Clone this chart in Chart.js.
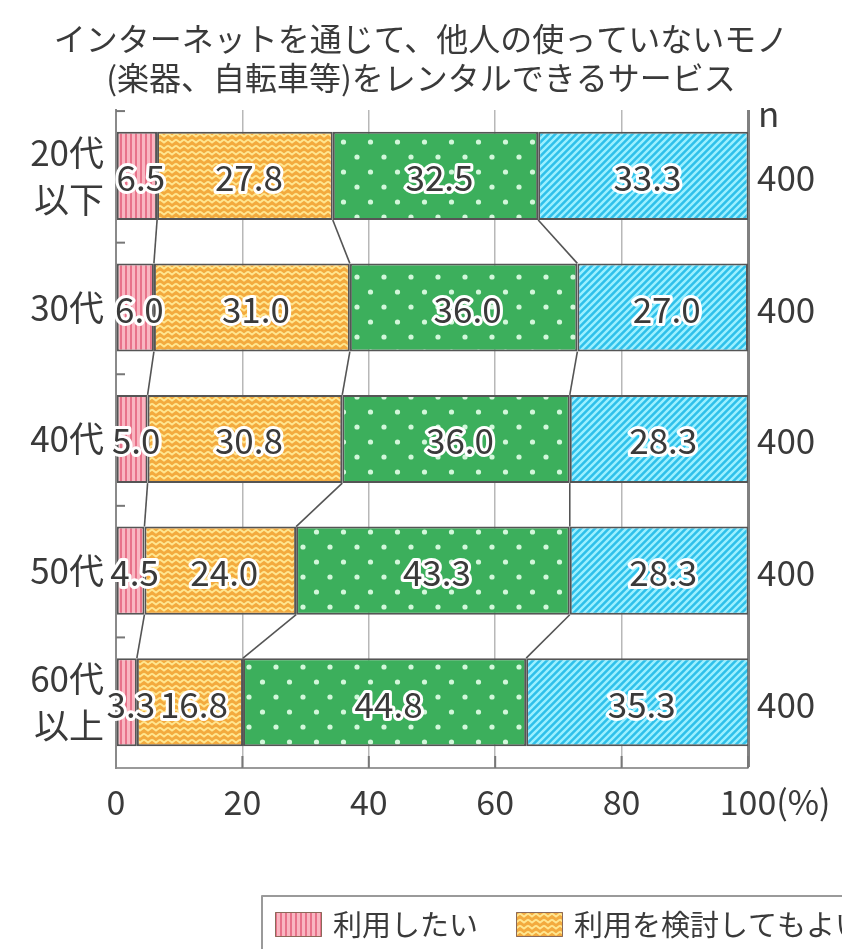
<!DOCTYPE html>
<html><head><meta charset="utf-8">
<script src="https://cdn.jsdelivr.net/npm/chart.js@4.4.1/dist/chart.umd.min.js"></script>
<style>html,body{margin:0;padding:0;background:#fff;overflow:hidden}#wrap{width:842px;height:949px;position:relative}</style>
</head><body><div id="wrap"><canvas id="c" width="842" height="949"></canvas></div>
<script>
const titleLines = ['インターネットを通じて、他人の使っていないモノ', '(楽器、自転車等)をレンタルできるサービス'];
const categories = [['20代', '以下'], '30代', '40代', '50代', ['60代', '以上']];
const seriesNames = ['利用したい', '利用を検討してもよい', 'あまり利用したくない', '利用したくない'];
const want = [6.5, 6.0, 5.0, 4.5, 3.3];
const consider = [27.8, 31.0, 30.8, 24.0, 16.8];
const notMuch = [32.5, 36.0, 36.0, 43.3, 44.8];
const notWant = [33.3, 27.0, 28.3, 28.3, 35.3];
const nValues = [400, 400, 400, 400, 400];
const xTicks = [0, 20, 40, 60, 80, 100];
const nHeader = 'n';
const unitSuffix = '(%)';

const FONT = '"Noto Sans CJK JP", "Noto Sans", sans-serif';
const canvas = document.getElementById('c');
const ctx = canvas.getContext('2d');

function makePattern(w, h, draw) {
  const c = document.createElement('canvas');
  c.width = w; c.height = h;
  draw(c.getContext('2d'), w, h);
  return ctx.createPattern(c, 'repeat');
}
const pinkPat = makePattern(5, 5, (g, w, h) => {
  g.fillStyle = '#f9b6c1'; g.fillRect(0, 0, w, h);
  g.fillStyle = '#e8728a'; g.fillRect(0, 0, 2, h);
});
const orangePat = makePattern(8, 6, (g, w, h) => {
  g.fillStyle = '#f3aa3e'; g.fillRect(0, 0, w, h);
  g.strokeStyle = '#ffe690'; g.lineWidth = 1.8;
  g.beginPath(); g.moveTo(0, 1.5); g.lineTo(4, 4.5); g.lineTo(8, 1.5); g.stroke();
});
const greenPat = makePattern(27, 30, (g, w, h) => {
  g.fillStyle = '#3caf5c'; g.fillRect(0, 0, w, h);
  g.fillStyle = '#d2f7da';
  [[6, 7], [19.5, 22]].forEach(p => { g.beginPath(); g.arc(p[0], p[1], 2.6, 0, Math.PI * 2); g.fill(); });
});
const cyanPat = makePattern(7, 7, (g, w, h) => {
  g.fillStyle = '#2fc0ea'; g.fillRect(0, 0, w, h);
  g.strokeStyle = '#9cf0ff'; g.lineWidth = 2.4;
  g.beginPath();
  g.moveTo(0, h); g.lineTo(w, 0);
  g.moveTo(-w, h); g.lineTo(0, 0);
  g.moveTo(w, 2 * h); g.lineTo(2 * w, h);
  g.moveTo(0, 2 * h); g.lineTo(2 * w, 0);
  g.moveTo(-w, h); g.lineTo(w, -h);
  g.stroke();
});
const patterns = [pinkPat, orangePat, greenPat, cyanPat];
const seriesData = [want, consider, notMuch, notWant];

const overlay = {
  id: 'overlay',
  afterDatasetsDraw(chart) {
    const c = chart.ctx, area = chart.chartArea;
    const xs = chart.scales.x, ys = chart.scales.y;
    c.save();
    // connector lines between bars
    c.strokeStyle = '#555'; c.lineWidth = 1.6;
    for (let k = 0; k < 3; k++) {
      const meta = chart.getDatasetMeta(k);
      for (let i = 0; i < meta.data.length - 1; i++) {
        const a = meta.data[i].getProps(['x', 'y', 'height'], true);
        const b = meta.data[i + 1].getProps(['x', 'y', 'height'], true);
        c.beginPath();
        c.moveTo(a.x, a.y + a.height / 2);
        c.lineTo(b.x, b.y - b.height / 2);
        c.stroke();
      }
    }
    // inward ticks on x axis
    c.strokeStyle = '#777'; c.lineWidth = 2;
    xTicks.forEach(v => {
      if (v === 0) return;
      const px = xs.getPixelForValue(v);
      c.beginPath(); c.moveTo(px, area.bottom); c.lineTo(px, area.bottom - 12); c.stroke();
    });
    // inward ticks at category boundaries on y axis
    for (let i = 0; i < categories.length; i++) {
      const py = ys.getPixelForValue(i - 0.5);
      c.beginPath(); c.moveTo(area.left, py + 1); c.lineTo(area.left + 9, py + 1); c.stroke();
    }
    // data labels
    c.font = '35px ' + FONT;
    c.textAlign = 'center'; c.textBaseline = 'middle';
    c.lineJoin = 'round';
    for (let k = 0; k < 4; k++) {
      const meta = chart.getDatasetMeta(k);
      meta.data.forEach((el, i) => {
        const p = el.getProps(['x', 'y', 'base'], true);
        const txt = seriesData[k][i].toFixed(1);
        const cx = (p.x + p.base) / 2 + 4;
        c.strokeStyle = '#fff'; c.lineWidth = 6;
        c.strokeText(txt, cx, p.y + 2);
        c.fillStyle = '#3a3a3a';
        c.fillText(txt, cx, p.y + 2);
      });
    }
    // n column
    c.textAlign = 'left';
    c.fillStyle = '#3a3a3a';
    c.font = '35px ' + FONT;
    c.fillText(nHeader, 758, 114);
    nValues.forEach((v, i) => {
      c.fillText(String(v), 757, ys.getPixelForValue(i) + 2);
    });
    // (%) suffix after last x tick
    const items = xs.getLabelItems ? xs.getLabelItems() : [];
    const last = items[items.length - 1];
    c.font = '34px ' + FONT;
    const wLast = c.measureText(String(xTicks[xTicks.length - 1])).width;
    if (last) {
      c.textBaseline = last.options.textBaseline || 'top';
      c.fillStyle = '#3a3a3a';
      c.fillText(unitSuffix, last.options.translation[0] + wLast / 2, last.options.translation[1] + (last.textOffset || 0));
    }
    // legend (partially visible)
    c.strokeStyle = '#9a9a9a'; c.lineWidth = 2;
    c.strokeRect(262, 896, 700, 90);
    c.font = '29px ' + FONT;
    c.textBaseline = 'middle';
    const lx = [275, 516];
    for (let k = 0; k < 2; k++) {
      c.fillStyle = patterns[k];
      c.fillRect(lx[k], 912, 47, 25);
      c.strokeStyle = '#8a6a5a'; c.lineWidth = 1;
      c.strokeRect(lx[k] + 0.5, 912.5, 46, 24);
      c.fillStyle = '#3a3a3a';
      c.fillText(seriesNames[k], lx[k] + 58, 925);
    }
    c.restore();
  }
};

new Chart(ctx, {
  type: 'bar',
  data: {
    labels: categories,
    datasets: seriesData.map((d, k) => ({
      label: seriesNames[k],
      data: d,
      backgroundColor: patterns[k],
      borderColor: '#555',
      borderWidth: 2,
      borderSkipped: false,
      barPercentage: 0.67,
      categoryPercentage: 1.0
    }))
  },
  options: {
    indexAxis: 'y',
    responsive: false,
    animation: false,
    layout: { padding: 0 },
    scales: {
      x: {
        stacked: true, min: 0, max: 100,
        afterBuildTicks(s) { s.ticks = xTicks.map(v => ({ value: v })); },
        afterFit(s) { s.height = 181; },
        ticks: {
          color: '#3a3a3a', font: { size: 34, family: FONT }, padding: 14,
          maxRotation: 0, autoSkip: false
        },
        grid: {
          drawTicks: false,
          color: ctx => ctx.tick && ctx.tick.value === 100 ? '#808080' : '#b8b8b8',
          lineWidth: ctx => ctx.tick && ctx.tick.value === 100 ? 3 : 1.5
        },
        border: { display: true, color: '#9a9a9a', width: 2 }
      },
      y: {
        stacked: true,
        afterFit(s) { s.width = 116; },
        ticks: {
          color: '#3a3a3a', font: { size: 35, family: FONT, lineHeight: 1.35 }, padding: 12
        },
        grid: { display: true, drawOnChartArea: false, drawTicks: false },
        border: { display: true, color: '#8a8a8a', width: 2 }
      },
      nSide: {
        type: 'linear', position: 'right', display: true,
        afterFit(s) { s.width = 94; },
        ticks: { display: false },
        grid: { display: false, drawTicks: false },
        border: { display: false }
      }
    },
    plugins: {
      legend: { display: false },
      tooltip: { enabled: false },
      title: {
        display: true,
        text: titleLines,
        color: '#3a3a3a',
        font: { size: 32, family: FONT, weight: 'normal', lineHeight: 1.22 },
        padding: { top: 19, bottom: 13 }
      }
    }
  },
  plugins: [overlay]
});
</script>
</body></html>
